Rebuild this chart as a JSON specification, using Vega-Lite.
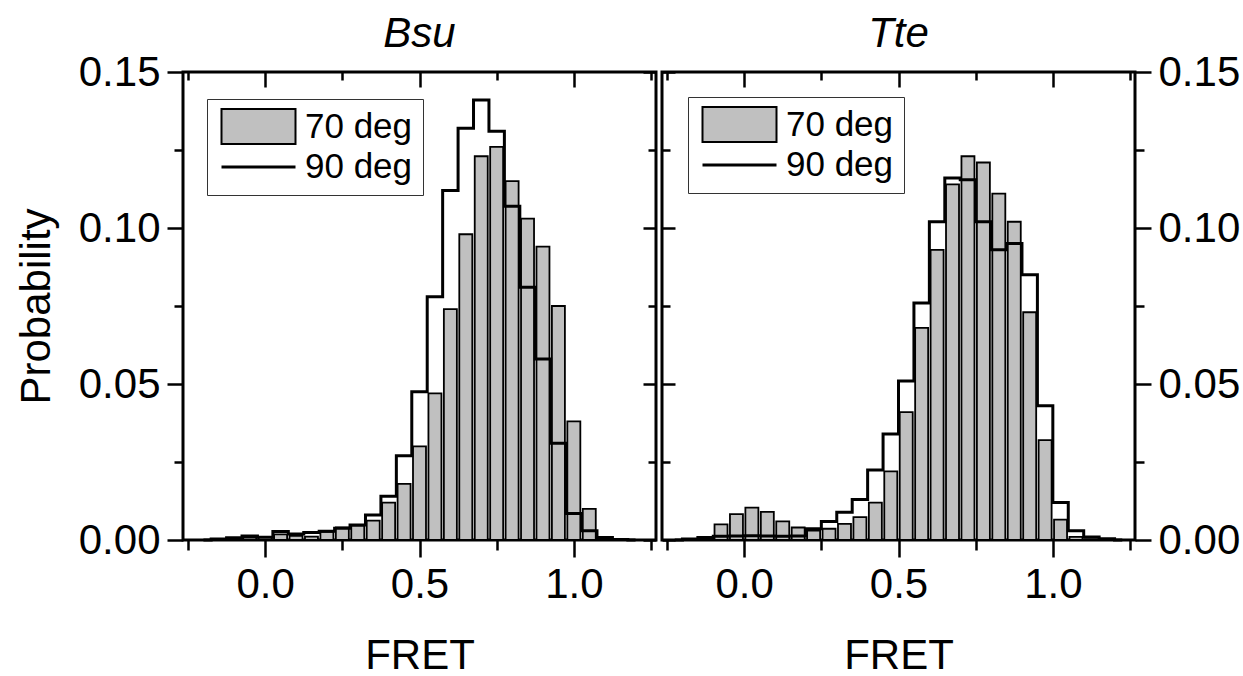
{
  "$schema": "https://vega.github.io/schema/vega-lite/v6.json",
  "padding": {"left": 13, "top": 11, "right": 0, "bottom": 0},
  "background": "white",
  "config": {
    "font": "Liberation Sans",
    "view": {"stroke": "black", "strokeWidth": 3},
    "axis": {
      "domain": false, "grid": false, "tickColor": "black", "tickWidth": 2.5,
      "labelColor": "black", "titleColor": "black", "labelFont": "Liberation Sans",
      "titleFont": "Liberation Sans", "labelFontSize": 42, "titleFontSize": 42,
      "titleFontWeight": "normal", "labelPadding": 7, "minExtent": 0
    },
    "title": {"fontSize": 42, "fontStyle": "italic", "fontWeight": "normal", "color": "black", "font": "Liberation Sans", "offset": -5, "frame": "group"},
    "legend": {
      "title": null, "orient": "none", "strokeColor": "#333333", "strokeWidth": 1,
      "padding": 10, "symbolSize": 5476, "labelFontSize": 35, "labelFont": "Liberation Sans",
      "labelColor": "black", "labelOffset": 29, "symbolOffset": 24, "symbolStrokeColor": "black", "rowPadding": 1.5,
      "labelLimit": 300
    }
  },
  "datasets": {
    "bsu": [
      {"fret": -0.20, "p70": 0, "p90": 0},
      {"fret": -0.15, "p70": 0.0002, "p90": 0.0003},
      {"fret": -0.10, "p70": 0.0005, "p90": 0.0007},
      {"fret": -0.05, "p70": 0.0008, "p90": 0.0013},
      {"fret": 0.00, "p70": 0.0009, "p90": 0.0009},
      {"fret": 0.05, "p70": 0.0018, "p90": 0.0027},
      {"fret": 0.10, "p70": 0.0013, "p90": 0.0019},
      {"fret": 0.15, "p70": 0.0011, "p90": 0.0024},
      {"fret": 0.20, "p70": 0.0026, "p90": 0.0028},
      {"fret": 0.25, "p70": 0.0040, "p90": 0.0038},
      {"fret": 0.30, "p70": 0.0046, "p90": 0.0048},
      {"fret": 0.35, "p70": 0.0062, "p90": 0.0080},
      {"fret": 0.40, "p70": 0.0120, "p90": 0.0140},
      {"fret": 0.45, "p70": 0.0180, "p90": 0.0270},
      {"fret": 0.50, "p70": 0.0300, "p90": 0.0475},
      {"fret": 0.55, "p70": 0.0470, "p90": 0.0780},
      {"fret": 0.60, "p70": 0.0740, "p90": 0.1120},
      {"fret": 0.65, "p70": 0.0980, "p90": 0.1320},
      {"fret": 0.70, "p70": 0.1230, "p90": 0.1410},
      {"fret": 0.75, "p70": 0.1260, "p90": 0.1310},
      {"fret": 0.80, "p70": 0.1150, "p90": 0.1070},
      {"fret": 0.85, "p70": 0.1030, "p90": 0.0810},
      {"fret": 0.90, "p70": 0.0940, "p90": 0.0580},
      {"fret": 0.95, "p70": 0.0750, "p90": 0.0310},
      {"fret": 1.00, "p70": 0.0380, "p90": 0.0085},
      {"fret": 1.05, "p70": 0.0100, "p90": 0.0030},
      {"fret": 1.10, "p70": 0.0005, "p90": 0.0008},
      {"fret": 1.15, "p70": 0, "p90": 0.0002},
      {"fret": 1.20, "p70": 0, "p90": 0}
    ],
    "tte": [
      {"fret": -0.225, "p70": 0, "p90": 0},
      {"fret": -0.175, "p70": 0.0001, "p90": 0.0003},
      {"fret": -0.125, "p70": 0.0006, "p90": 0.0008},
      {"fret": -0.075, "p70": 0.0050, "p90": 0.0012},
      {"fret": -0.025, "p70": 0.0083, "p90": 0.0013},
      {"fret": 0.025, "p70": 0.0104, "p90": 0.0014},
      {"fret": 0.075, "p70": 0.0090, "p90": 0.0013},
      {"fret": 0.125, "p70": 0.0060, "p90": 0.0012},
      {"fret": 0.175, "p70": 0.0040, "p90": 0.0013},
      {"fret": 0.225, "p70": 0.0030, "p90": 0.0036},
      {"fret": 0.275, "p70": 0.0036, "p90": 0.0059},
      {"fret": 0.325, "p70": 0.0052, "p90": 0.0089},
      {"fret": 0.375, "p70": 0.0073, "p90": 0.0130},
      {"fret": 0.425, "p70": 0.0120, "p90": 0.0224},
      {"fret": 0.475, "p70": 0.0220, "p90": 0.0340},
      {"fret": 0.525, "p70": 0.0410, "p90": 0.0510},
      {"fret": 0.575, "p70": 0.0680, "p90": 0.0760},
      {"fret": 0.625, "p70": 0.0930, "p90": 0.1020},
      {"fret": 0.675, "p70": 0.1140, "p90": 0.1160},
      {"fret": 0.725, "p70": 0.1230, "p90": 0.1155},
      {"fret": 0.775, "p70": 0.1210, "p90": 0.1020},
      {"fret": 0.825, "p70": 0.1110, "p90": 0.0930},
      {"fret": 0.875, "p70": 0.1020, "p90": 0.0950},
      {"fret": 0.925, "p70": 0.0730, "p90": 0.0850},
      {"fret": 0.975, "p70": 0.0320, "p90": 0.0430},
      {"fret": 1.025, "p70": 0.0065, "p90": 0.0120},
      {"fret": 1.075, "p70": 0.0010, "p90": 0.0030},
      {"fret": 1.125, "p70": 0.0002, "p90": 0.0010},
      {"fret": 1.175, "p70": 0, "p90": 0.0004},
      {"fret": 1.225, "p70": 0, "p90": 0}
    ]
  },
  "spacing": 0,
  "resolve": {
    "scale": {"x": "independent", "y": "independent", "fill": "independent"},
    "legend": {"fill": "independent"}
  },
  "hconcat": [
    {
      "title": {"text": "Bsu"},
      "width": 473, "height": 468,
      "data": {"name": "bsu"},
      "resolve": {"axis": {"x": "independent", "y": "independent"}},
      "layer": [
        {
          "mark": {"type": "bar", "size": 13, "stroke": "black", "strokeWidth": 1.8},
          "encoding": {
            "x": {"field": "fret", "type": "quantitative",
              "scale": {"domain": [-0.25, 1.25], "nice": false, "zero": false},
              "axis": {"orient": "bottom", "title": "FRET", "titlePadding": 30,
                "values": [-0.25, 0, 0.25, 0.5, 0.75, 1, 1.25],
                "tickSize": {"condition": {"test": "round(datum.value*100) % 50 === 0", "value": 17}, "value": 10},
                "labelExpr": "round(datum.value*100) % 50 === 0 ? format(datum.value, '.1f') : ''"}},
            "y": {"field": "p70", "type": "quantitative",
              "scale": {"domain": [0, 0.15], "nice": false},
              "axis": {"orient": "left", "title": "Probability", "titlePadding": 20,
                "values": [0, 0.025, 0.05, 0.075, 0.1, 0.125, 0.15],
                "tickSize": {"condition": {"test": "round(datum.value*1000) % 50 === 0", "value": 16}, "value": 9},
                "labelExpr": "round(datum.value*1000) % 50 === 0 ? format(datum.value, '.2f') : ''"}},
            "fill": {"datum": "70 deg",
              "scale": {"domain": ["70 deg", "90 deg"], "range": ["#c0c0c0", "#ffffff"]},
              "legend": {"legendX": 24, "legendY": 27,
                "encode": {"symbols": {"update": {
                  "shape": {"signal": "datum.value === '70 deg' ? 'M-1,-0.47H1V0.47H-1Z' : 'M-1,0H1'"},
                  "strokeWidth": {"signal": "datum.value === '70 deg' ? 2 : 3"},
                  "stroke": {"value": "black"}}}}}}
          }
        },
        {
          "mark": {"type": "line", "interpolate": "step", "color": "black", "strokeWidth": 3},
          "encoding": {
            "x": {"field": "fret", "type": "quantitative",
              "axis": {"orient": "top", "title": null, "labels": false,
                "values": [-0.25, 0, 0.25, 0.5, 0.75, 1, 1.25],
                "tickSize": {"condition": {"test": "round(datum.value*100) % 50 === 0", "value": -15}, "value": -8}}},
            "y": {"field": "p90", "type": "quantitative",
              "axis": {"orient": "right", "title": null, "labels": false,
                "values": [0, 0.025, 0.05, 0.075, 0.1, 0.125, 0.15],
                "tickSize": {"condition": {"test": "round(datum.value*1000) % 50 === 0", "value": -13}, "value": -8}}}
          }
        }
      ]
    },
    {
      "title": {"text": "Tte"},
      "width": 473, "height": 468,
      "data": {"name": "tte"},
      "resolve": {"axis": {"x": "independent", "y": "independent"}},
      "layer": [
        {
          "mark": {"type": "bar", "size": 13, "stroke": "black", "strokeWidth": 1.8},
          "encoding": {
            "x": {"field": "fret", "type": "quantitative",
              "scale": {"domain": [-0.25, 1.25], "nice": false, "zero": false},
              "axis": {"orient": "bottom", "title": "FRET", "titlePadding": 30,
                "values": [-0.25, 0, 0.25, 0.5, 0.75, 1, 1.25],
                "tickSize": {"condition": {"test": "round(datum.value*100) % 50 === 0", "value": 17}, "value": 10},
                "labelExpr": "round(datum.value*100) % 50 === 0 ? format(datum.value, '.1f') : ''"}},
            "y": {"field": "p70", "type": "quantitative",
              "scale": {"domain": [0, 0.15], "nice": false},
              "axis": {"orient": "right", "title": null,
                "values": [0, 0.025, 0.05, 0.075, 0.1, 0.125, 0.15],
                "tickSize": {"condition": {"test": "round(datum.value*1000) % 50 === 0", "value": 16}, "value": 9},
                "labelExpr": "round(datum.value*1000) % 50 === 0 ? format(datum.value, '.2f') : ''"}},
            "fill": {"datum": "70 deg",
              "scale": {"domain": ["70 deg", "90 deg"], "range": ["#c0c0c0", "#ffffff"]},
              "legend": {"legendX": 26, "legendY": 25,
                "encode": {"symbols": {"update": {
                  "shape": {"signal": "datum.value === '70 deg' ? 'M-1,-0.47H1V0.47H-1Z' : 'M-1,0H1'"},
                  "strokeWidth": {"signal": "datum.value === '70 deg' ? 2 : 3"},
                  "stroke": {"value": "black"}}}}}}
          }
        },
        {
          "mark": {"type": "line", "interpolate": "step", "color": "black", "strokeWidth": 3},
          "encoding": {
            "x": {"field": "fret", "type": "quantitative",
              "axis": {"orient": "top", "title": null, "labels": false,
                "values": [-0.25, 0, 0.25, 0.5, 0.75, 1, 1.25],
                "tickSize": {"condition": {"test": "round(datum.value*100) % 50 === 0", "value": -15}, "value": -8}}},
            "y": {"field": "p90", "type": "quantitative",
              "axis": {"orient": "left", "title": null, "labels": false,
                "values": [0, 0.025, 0.05, 0.075, 0.1, 0.125, 0.15],
                "tickSize": {"condition": {"test": "round(datum.value*1000) % 50 === 0", "value": -13}, "value": -8}}}
          }
        }
      ]
    }
  ]
}
